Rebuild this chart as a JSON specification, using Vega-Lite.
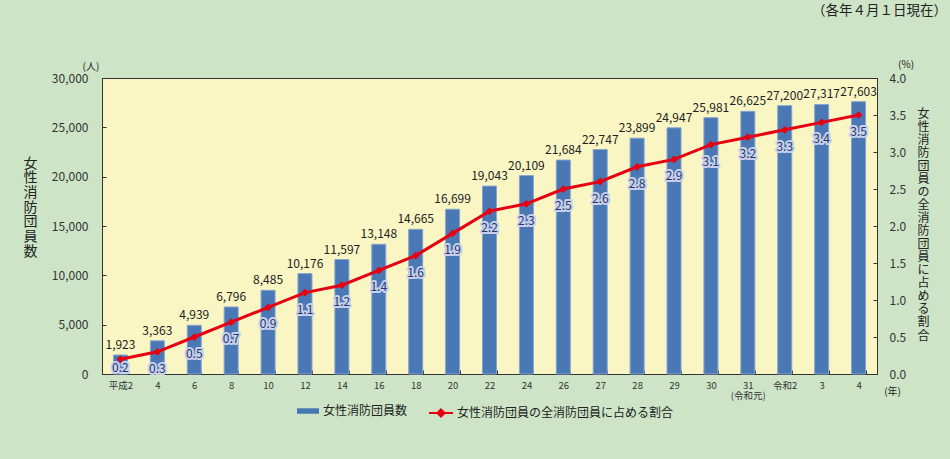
{
  "$schema": "https://vega.github.io/schema/vega-lite/v6.json",
  "width": 775,
  "height": 296,
  "autosize": {"type": "none"},
  "padding": {"left": 102, "top": 78, "right": 73, "bottom": 85},
  "background": "#cde5c6",
  "title": {
    "text": "（各年４月１日現在）",
    "anchor": "end",
    "frame": "group",
    "fontSize": 13.5,
    "fontWeight": "normal",
    "color": "#222",
    "font": "Noto Sans CJK JP",
    "dx": 70,
    "dy": -39
  },
  "config": {
    "font": "Noto Sans CJK JP",
    "view": {"fill": "#f9f6c4", "stroke": "#333", "strokeWidth": 1},
    "axis": {
      "domainColor": "#333",
      "tickColor": "#333",
      "labelColor": "#333",
      "titleColor": "#222",
      "grid": false,
      "titleFontWeight": "normal"
    },
    "legend": {"labelFont": "Noto Sans CJK JP", "labelFontSize": 12, "labelColor": "#222", "labelLimit": 0}
  },
  "data": {
    "values": [
      {"year": "平成2", "n": 1923, "pct": 0.2},
      {"year": "4", "n": 3363, "pct": 0.3},
      {"year": "6", "n": 4939, "pct": 0.5},
      {"year": "8", "n": 6796, "pct": 0.7},
      {"year": "10", "n": 8485, "pct": 0.9},
      {"year": "12", "n": 10176, "pct": 1.1},
      {"year": "14", "n": 11597, "pct": 1.2},
      {"year": "16", "n": 13148, "pct": 1.4},
      {"year": "18", "n": 14665, "pct": 1.6},
      {"year": "20", "n": 16699, "pct": 1.9},
      {"year": "22", "n": 19043, "pct": 2.2},
      {"year": "24", "n": 20109, "pct": 2.3},
      {"year": "26", "n": 21684, "pct": 2.5},
      {"year": "27", "n": 22747, "pct": 2.6},
      {"year": "28", "n": 23899, "pct": 2.8},
      {"year": "29", "n": 24947, "pct": 2.9},
      {"year": "30", "n": 25981, "pct": 3.1},
      {"year": "31", "n": 26625, "pct": 3.2},
      {"year": "令和2", "n": 27200, "pct": 3.3},
      {"year": "3 ", "n": 27317, "pct": 3.4},
      {"year": "4 ", "n": 27603, "pct": 3.5}
    ]
  },
  "layer": [
    {
      "encoding": {
        "x": {
          "field": "year",
          "type": "nominal",
          "sort": null,
          "scale": {"paddingInner": 0.62, "paddingOuter": 0.31},
          "axis": {
            "title": "(年)",
            "titleX": 790,
            "titleY": 17,
            "titleAlign": "center",
            "titleBaseline": "middle",
            "titleFontSize": 10,
            "labelAngle": 0,
            "labelFontSize": 9.5,
            "labelPadding": 10,
            "labelBaseline": "top",
            "tickSize": -4,
            "tickBand": "extent",
            "labelLineHeight": 10,
            "labelExpr": "datum.value == '31' ? ['31', '(令和元)'] : datum.value"
          }
        },
        "y": {
          "field": "n",
          "type": "quantitative",
          "scale": {"domain": [0, 30000], "nice": false},
          "axis": {
            "values": [0, 5000, 10000, 15000, 20000, 25000, 30000],
            "format": ",d",
            "labelFontSize": 12,
            "labelPadding": 18,
            "tickSize": -4,
            "title": ["女", "性", "消", "防", "団", "員", "数"],
            "titleAngle": 0,
            "titleX": -72,
            "titleY": 78,
            "titleAlign": "center",
            "titleBaseline": "top",
            "titleFontSize": 14,
            "titleLineHeight": 14.7
          }
        }
      },
      "layer": [
        {
          "mark": {"type": "bar", "stroke": "#86a5d4", "strokeWidth": 1},
          "encoding": {
            "color": {
              "datum": "女性消防団員数",
              "type": "nominal",
              "scale": {"range": ["#4a78b4"]},
              "legend": {
                "orient": "none",
                "legendX": 195,
                "legendY": 322,
                "title": null,
                "symbolType": "M-1,-0.25H1V0.25H-1Z",
                "symbolSize": 484,
                "symbolStrokeWidth": 0,
                "labelOffset": 4
              }
            }
          }
        },
        {
          "mark": {"type": "text", "baseline": "alphabetic", "dy": -6, "fontSize": 12, "color": "#222"},
          "encoding": {
            "text": {"field": "n", "type": "quantitative", "format": ","}
          }
        },
        {
          "data": {"values": [{"t": "(人)", "year": "平成2", "n": 30000}]},
          "mark": {"type": "text", "dx": -29.5, "dy": -11, "fontSize": 10, "color": "#222"},
          "encoding": {
            "text": {"field": "t"}
          }
        }
      ]
    },
    {
      "encoding": {
        "x": {"field": "year", "type": "nominal", "sort": null},
        "y": {
          "field": "pct",
          "type": "quantitative",
          "scale": {"domain": [0, 4], "nice": false},
          "axis": {
            "orient": "right",
            "values": [0, 0.5, 1, 1.5, 2, 2.5, 3, 3.5, 4],
            "format": ".1f",
            "labelFontSize": 12,
            "labelPadding": 16,
            "tickSize": -4,
            "title": ["女", "性", "消", "防", "団", "員", "の", "全", "消", "防", "団", "員", "に", "占", "め", "る", "割", "合"],
            "titleAngle": 0,
            "titleX": 46,
            "titleY": 30,
            "titleAlign": "center",
            "titleBaseline": "top",
            "titleFontSize": 12,
            "titleLineHeight": 13.06
          }
        }
      },
      "layer": [
        {
          "mark": {"type": "line", "strokeWidth": 3},
          "encoding": {
            "color": {
              "datum": "女性消防団員の全消防団員に占める割合",
              "type": "nominal",
              "scale": {"range": ["#e60012"]},
              "legend": {
                "orient": "none",
                "legendX": 326,
                "legendY": 322,
                "title": null,
                "symbolType": "M-1,0H1M0,-0.3L0.3,0L0,0.3L-0.3,0Z",
                "symbolSize": 576,
                "symbolStrokeWidth": 2,
                "symbolFillColor": "#e60012",
                "symbolStrokeColor": "#e60012",
                "labelOffset": 3,
                "encode": {"symbols": {"update": {"fill": {"value": "#e60012"}, "stroke": {"value": "#e60012"}}}}
              }
            }
          }
        },
        {
          "mark": {"type": "point", "shape": "diamond", "filled": true, "size": 60, "color": "#e60012", "opacity": 1}
        },
        {
          "transform": [{"filter": "datum.pct >= 0.25"}],
          "mark": {"type": "text", "baseline": "middle", "dy": 17, "fontSize": 12, "stroke": "#c9d0ec", "strokeWidth": 4, "strokeJoin": "round", "fill": "#c9d0ec"},
          "encoding": {
            "text": {"field": "pct", "type": "quantitative", "format": ".1f"}
          }
        },
        {
          "transform": [{"filter": "datum.pct >= 0.25"}],
          "mark": {"type": "text", "baseline": "middle", "dy": 17, "fontSize": 12, "fill": "#24386a"},
          "encoding": {
            "text": {"field": "pct", "type": "quantitative", "format": ".1f"}
          }
        },
        {
          "transform": [{"filter": "datum.pct < 0.25"}],
          "mark": {"type": "text", "baseline": "middle", "dy": 9, "fontSize": 12, "stroke": "#c9d0ec", "strokeWidth": 4, "strokeJoin": "round", "fill": "#c9d0ec"},
          "encoding": {
            "text": {"field": "pct", "type": "quantitative", "format": ".1f"}
          }
        },
        {
          "transform": [{"filter": "datum.pct < 0.25"}],
          "mark": {"type": "text", "baseline": "middle", "dy": 9, "fontSize": 12, "fill": "#24386a"},
          "encoding": {
            "text": {"field": "pct", "type": "quantitative", "format": ".1f"}
          }
        },
        {
          "data": {"values": [{"t": "(%)", "year": "4 ", "pct": 4}]},
          "mark": {"type": "text", "dx": 47.5, "dy": -13, "fontSize": 10, "color": "#222"},
          "encoding": {
            "text": {"field": "t"}
          }
        }
      ]
    }
  ],
  "resolve": {"scale": {"y": "independent", "color": "independent"}}
}
